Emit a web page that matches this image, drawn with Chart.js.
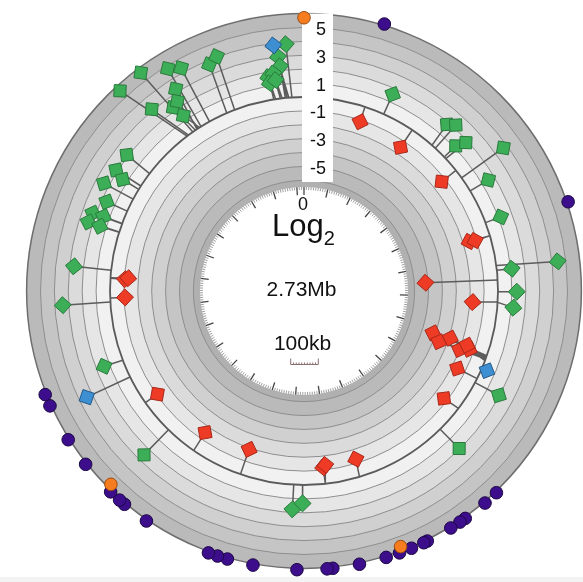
<!DOCTYPE html>
<html>
<head>
<meta charset="utf-8">
<script src="https://cdn.jsdelivr.net/npm/chart.js@4.4.0/dist/chart.umd.min.js"></script>
<style>
  html, body { margin: 0; padding: 0; background: #fff; overflow: hidden; }
  canvas { display: block; }
  #foot { position: absolute; left: 0; top: 577px; width: 583px; height: 5px; background: #f3f3f3; }
</style>
</head>
<body>
<canvas id="chart" width="583" height="582"></canvas>
<div id="foot"></div>
<script>
// genome and log2 axis
const GENOME_KB = 2730;
const LOG2_MIN = -6;
const LOG2_MAX = 6;
const LOG2_TICKS = [5, 3, 1, -1, -3, -5];

// genes with log2 > 0 : position (kb), stem foot on the baseline (kb), log2
const greenPos  = [2407, 2451, 2491, 2511, 2558, 2575, 2484, 2427, 2461, 2474, 2468,
                   2698, 2682, 2684, 2658, 2669, 2659, 2672,
                   184, 308, 322, 351, 360, 412, 447, 526, 636, 632, 684, 717, 896, 1027,
                   1388, 1368, 1701, 1891, 2022, 2094,
                   2332, 2296, 2287, 2262, 2232, 2201, 2202, 2182, 2181];
const greenBase = [2449, 2465, 2487, 2509, 2552, 2571, 2476, 2453, 2472, 2480, 2483,
                   2703, 2692, 2688, 2666, 2677, 2662, 2681,
                   184, 313, 323, 351, 356, 412, 447, 526, 636, 625, 684, 708, 896, 1027,
                   1388, 1368, 1701, 1889, 2023, 2094,
                   2330, 2296, 2287, 2262, 2232, 2201, 2202, 2182, 2181];
const greenVal  = [5.6, 5.65, 4.8, 4.35, 3.7, 4.05, 3.25, 3.1, 2.25, 2.45, 1.35,
                   3.85, 3.0, 2.3, 1.65, 1.85, 1.2, 1.35,
                   1.57, 1.83, 2.22, 1.15, 1.84, 3.7, 1.52, 1.17, 1.07, 4.42, 1.35, 1.15, 1.94, 1.95,
                   1.77, 1.32, 2.52, 1.41, 3.43, 2.69,
                   2.12, 2.13, 1.36, 2.39, 1.63, 2.24, 1.44, 2.34, 1.45];

// genes with log2 < 0
const redPos  = [139, 257, 391, 556, 558, 653, 711, 819, 839, 818, 839, 830, 822, 886, 967,
                 1318, 1312, 1235, 1510, 1630, 1781, 2032, 2076, 2079];
const redBase = [139, 257, 391, 557, 557, 658, 707, 830, 834, 834, 838, 842, 838, 886, 965,
                 1317, 1317, 1239, 1510, 1628, 1781, 2032, 2076, 2077];
const redVal  = [-1.13, -1.5, -1.31, -1.55, -1.12, -5.2, -1.8, -4.2, -3.6, -2.9, -2.0, -1.35, -1.6, -1.6, -1.27,
                 -1.2, -1.35, -1.3, -1.9, -1.53, -1.06, -1.07, -1.05, -1.28];

// blue genes
const bluePos  = [2676, 861, 1850];
const blueBase = [2696, 861, 1848];
const blueVal  = [3.85, 0.4, 3.44];

// outer track
const purplePos = [127, 541, 1034, 1058, 1097, 1107, 1124, 1166, 1172, 1193, 1213, 1235, 1278, 1320,
                   1329, 1376, 1445, 1486, 1502, 1517, 1626, 1669, 1679, 1698, 1756, 1803, 1863, 1882];
const orangePos = [0, 1208, 1706];
const PURPLE_TRACK = 6.1;
const ORANGE_TRACK = 5.7;

// geometry (data units are pixels around the centre)
const R0 = 194, K = 13.9, INNER_R = 104;

function angleOf(kb) { return kb / GENOME_KB * 360; }
function polar(kb, v) {
  const a = angleOf(kb) * Math.PI / 180;
  const r = R0 + K * v;
  return { x: r * Math.sin(a), y: r * Math.cos(a) };
}

function stems(pos, base, val) {
  const pts = [];
  pos.forEach((p, i) => {
    pts.push(polar(base[i], 0), polar(p, val[i]), { x: null, y: null });
  });
  return pts;
}

function markers(pos, val, fill, border, order) {
  return {
    data: pos.map((p, i) => polar(p, val[i])),
    pointStyle: 'rectRot',
    pointRadius: 8.5,
    pointBorderWidth: 1,
    pointBackgroundColor: fill,
    pointBorderColor: border,
    pointRotation: pos.map(p => angleOf(p)),
    order
  };
}

function dots(pos, track, fill, border, order) {
  return {
    data: pos.map(p => polar(p, track)),
    pointStyle: 'circle',
    pointRadius: 6.3,
    pointBorderWidth: 1,
    pointBackgroundColor: fill,
    pointBorderColor: border,
    order
  };
}

const ringPlugin = {
  id: 'rings',
  beforeDatasetsDraw(chart) {
    const { ctx, scales: { x, y } } = chart;
    const cx = x.getPixelForValue(0), cy = y.getPixelForValue(0);
    const rad = d => x.getPixelForValue(d) - cx;
    const rv = v => rad(R0 + K * v);
    const circle = r => { ctx.beginPath(); ctx.arc(cx, cy, r, 0, Math.PI * 2); };
    ctx.save();

    // shaded bands, darker away from the baseline
    for (let v = LOG2_MAX; v > LOG2_MIN; v--) {
      const g = Math.round(246 - Math.abs(v - 0.5) * 11);
      ctx.fillStyle = `rgb(${g},${g},${g})`;
      circle(rv(v)); ctx.fill();
    }
    ctx.fillStyle = '#b0b0b0';
    circle(rv(LOG2_MIN)); ctx.fill();
    ctx.fillStyle = '#fff';
    circle(rad(INNER_R)); ctx.fill();

    ctx.strokeStyle = '#8e8e8e';
    ctx.lineWidth = 1;
    for (let v = LOG2_MIN; v < LOG2_MAX; v++) {
      if (v === 0) continue;
      circle(rv(v)); ctx.stroke();
    }
    ctx.strokeStyle = '#6e6e6e';
    ctx.lineWidth = 1.5;
    circle(rv(LOG2_MAX)); ctx.stroke();
    ctx.strokeStyle = '#5a5a5a';
    ctx.lineWidth = 1.8;
    circle(rv(0)); ctx.stroke();

    // log2 scale strip
    const top = cy - rv(LOG2_MAX), bottom = cy - rad(INNER_R + 5);
    ctx.fillStyle = '#fff';
    ctx.fillRect(cx - 2, top, 31, bottom - top);
    ctx.fillStyle = '#111';
    ctx.font = '18px "Liberation Sans", Arial, sans-serif';
    ctx.textAlign = 'right';
    ctx.textBaseline = 'middle';
    LOG2_TICKS.forEach(t => ctx.fillText(String(t), cx + 22, cy - rv(t) + 2.5));

    // ruler on the inner disc
    for (let kb = 0; kb < GENOME_KB; kb += 10) {
      const a = angleOf(kb) * Math.PI / 180;
      const major = kb % 100 === 0;
      const r1 = rad(INNER_R), r2 = r1 - (major ? 8 : 3);
      ctx.strokeStyle = major ? '#444' : '#888';
      ctx.lineWidth = major ? 1.3 : 0.8;
      ctx.beginPath();
      ctx.moveTo(cx + r1 * Math.sin(a), cy - r1 * Math.cos(a));
      ctx.lineTo(cx + r2 * Math.sin(a), cy - r2 * Math.cos(a));
      ctx.stroke();
    }

    // centre labels
    ctx.fillStyle = '#111';
    ctx.textBaseline = 'alphabetic';
    ctx.textAlign = 'center';
    ctx.font = '18px "Liberation Sans", Arial, sans-serif';
    ctx.fillText('0', cx - 1, cy - 81);
    ctx.textAlign = 'left';
    ctx.font = '31px "Liberation Sans", Arial, sans-serif';
    ctx.fillText('Log', cx - 32, cy - 55.5);
    const w = ctx.measureText('Log').width;
    ctx.font = '20px "Liberation Sans", Arial, sans-serif';
    ctx.fillText('2', cx - 32 + w, cy - 46);
    ctx.textAlign = 'center';
    ctx.font = '21px "Liberation Sans", Arial, sans-serif';
    ctx.fillText('2.73Mb', cx - 2.5, cy + 5);
    ctx.fillText('100kb', cx - 1.5, cy + 59);

    // 100kb scale bar
    const bx0 = cx - 13.3, bx1 = cx + 14.3, by = cy + 73.5;
    ctx.strokeStyle = '#8a7070';
    ctx.lineWidth = 1;
    ctx.beginPath();
    ctx.moveTo(bx0, by - 6); ctx.lineTo(bx0, by); ctx.lineTo(bx1, by); ctx.lineTo(bx1, by - 6);
    ctx.stroke();
    for (let i = 1; i < 10; i++) {
      const bx = bx0 + (bx1 - bx0) * i / 10;
      ctx.beginPath(); ctx.moveTo(bx, by); ctx.lineTo(bx, by - 2); ctx.stroke();
    }
    ctx.restore();
  }
};

const stemData = stems(greenPos, greenBase, greenVal)
  .concat(stems(redPos, redBase, redVal))
  .concat(stems(bluePos, blueBase, blueVal));

new Chart(document.getElementById('chart'), {
  type: 'scatter',
  data: {
    datasets: [
      { data: stemData, showLine: true, borderColor: '#5c5c5c', borderWidth: 1.5, pointRadius: 0, spanGaps: false, order: 6 },
      markers(greenPos, greenVal, '#3cae58', '#2a7a3c', 5),
      markers(redPos, redVal, '#ee3b25', '#a8281a', 4),
      markers(bluePos, blueVal, '#3d8fd2', '#22588a', 3),
      dots(purplePos, PURPLE_TRACK, '#3d0e8c', '#1c0745', 2),
      dots(orangePos, ORANGE_TRACK, '#f57d1f', '#9a4a10', 1)
    ]
  },
  options: {
    responsive: false,
    animation: false,
    events: [],
    layout: { padding: 0, autoPadding: false },
    plugins: { legend: { display: false }, tooltip: { enabled: false } },
    scales: {
      x: { type: 'linear', display: false, min: -304, max: 279 },
      y: { type: 'linear', display: false, min: -291, max: 291 }
    }
  },
  plugins: [ringPlugin]
});
</script>
</body>
</html>
